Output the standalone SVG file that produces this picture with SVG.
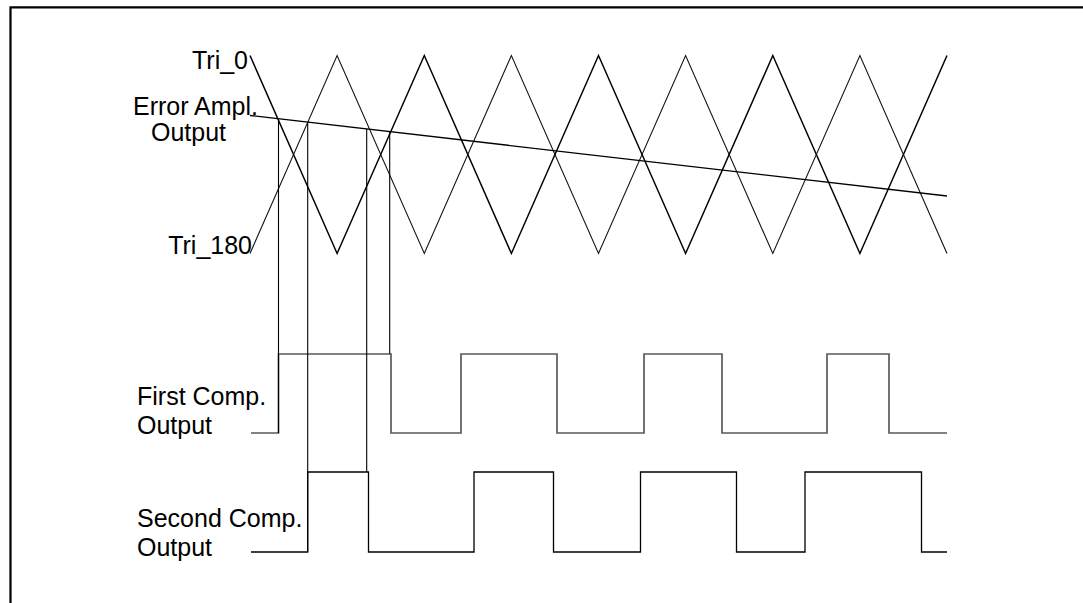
<svg xmlns="http://www.w3.org/2000/svg" width="1083" height="603" viewBox="0 0 1083 603">
<style>
text{font-family:"Liberation Sans",Arial,sans-serif;font-size:25px;fill:#000}
.frame{fill:none;stroke:#000;stroke-width:2.2}
.tri0{fill:none;stroke:#000;stroke-width:1.5;stroke-linejoin:miter}
.tri180{fill:none;stroke:#111;stroke-width:1.1}
.err{fill:none;stroke:#000;stroke-width:1.3}
.comp1{fill:none;stroke:#5a5a5a;stroke-width:1.7}
.comp2{fill:none;stroke:#000;stroke-width:1.3}
.vline{fill:none;stroke:#000;stroke-width:1.1}
</style>
<rect width="1083" height="603" fill="#fff"/>
<g id="frame">
<path class="frame" d="M10.5 603 V7.3 H1083"/>
</g>
<g id="tri_0">
<polyline class="tri0" points="250,55.5 337.1,253.5 424.3,55.5 511.4,253.5 598.5,55.5 685.6,253.5 772.8,55.5 859.9,253.5 947,55.5"/>
<text x="248" y="69" text-anchor="end">Tri_0</text>
</g>
<g id="tri_180">
<polyline class="tri180" points="250,253.5 337.1,55.5 424.3,253.5 511.4,55.5 598.5,253.5 685.6,55.5 772.8,253.5 859.9,55.5 947,253.5"/>
<text x="252" y="254" text-anchor="end">Tri_180</text>
</g>
<g id="error_ampl">
<line class="err" x1="250" y1="115.5" x2="947" y2="196"/>
<text x="133" y="115">Error Ampl.</text>
<text x="151" y="141">Output</text>
</g>
<g id="first_comp">
<path class="comp1" d="M251 433 H278.5 V354 H391 V433 H461 V354 H557 V433 H644 V354 H722 V433 H827 V354 H889 V433 H947"/>
<text x="137" y="405">First Comp.</text>
<text x="137" y="434">Output</text>
</g>
<g id="second_comp">
<path class="comp2" d="M251 552 H307.7 V472 H368.5 V552 H474 V472 H553.5 V552 H640.5 V472 H736.5 V552 H805 V472 H921.5 V552 H947"/>
<text x="137" y="527">Second Comp.</text>
<text x="137" y="556">Output</text>
</g>
<g id="connectors">
<line class="vline" x1="278.5" y1="119" x2="278.5" y2="433"/>
<line class="vline" x1="307.7" y1="122" x2="307.7" y2="552"/>
<line class="vline" x1="366.7" y1="129" x2="366.7" y2="472"/>
<line class="vline" x1="389.7" y1="132" x2="389.7" y2="354"/>
</g>
</svg>
